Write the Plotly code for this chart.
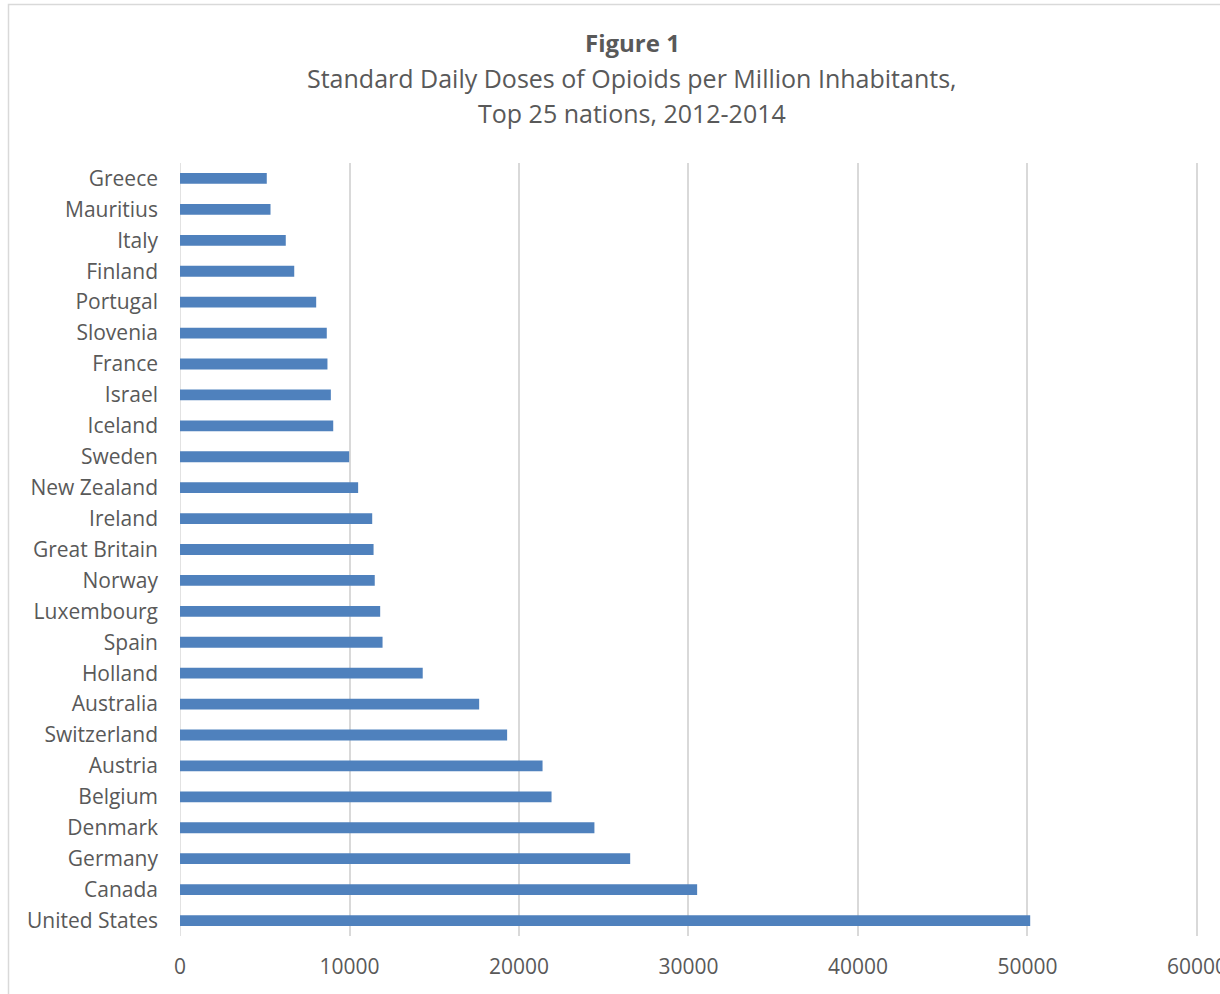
import plotly.graph_objects as go

countries = ["Greece", "Mauritius", "Italy", "Finland", "Portugal", "Slovenia", "France",
             "Israel", "Iceland", "Sweden", "New Zealand", "Ireland", "Great Britain", "Norway",
             "Luxembourg", "Spain", "Holland", "Australia", "Switzerland", "Austria", "Belgium",
             "Denmark", "Germany", "Canada", "United States"]
doses = [5120, 5340, 6240, 6740, 8035, 8660, 8700, 8900, 9040, 9980, 10510, 11340, 11420,
         11490, 11810, 11950, 14320, 17650, 19300, 21390, 21920, 24450, 26560, 30510, 50160]
x_ticks = [0, 10000, 20000, 30000, 40000, 50000, 60000]

title_bold = "Figure 1"
title_lines = ["Standard Daily Doses of Opioids per Million Inhabitants,",
               "Top 25 nations, 2012-2014"]

FONT = "Open Sans"
GRAY = "#595959"

W, H = 1220, 994
L, R, T, B = 180, 22, 163, 58
plot_w = W - L - R
plot_h = H - T - B

def px_x(px):
    return (px - L) / plot_w

def px_y(py):
    return (H - B - py) / plot_h

fig = go.Figure(go.Bar(
    x=doses, y=countries, orientation="h",
    marker=dict(color="#4F81BD", line=dict(width=0)),
    hoverinfo="x+y",
))

fig.update_layout(
    width=W, height=H,
    margin=dict(l=L, r=R, t=T, b=B, autoexpand=False),
    paper_bgcolor="white", plot_bgcolor="white",
    bargap=0.65,
    showlegend=False,
    font=dict(family=FONT, color=GRAY, size=21),
    xaxis=dict(range=[0, 60060], tickvals=x_ticks, ticktext=[str(v) for v in x_ticks],
               showgrid=True, gridcolor="#d9d9d9", gridwidth=1.5,
               zeroline=False, showline=False, ticks="", automargin=False,
               ticklabelstandoff=16, ticklabeloverflow="allow",
               tickfont=dict(family=FONT, size=21, color=GRAY)),
    yaxis=dict(autorange="reversed", showgrid=False, zeroline=False, automargin=False,
               showline=False, ticks="", ticklabelstandoff=21,
               tickfont=dict(family=FONT, size=21, color=GRAY)),
    shapes=[
        dict(type="rect", xref="paper", yref="paper",
             x0=px_x(8.5), x1=px_x(1240), y0=px_y(1010), y1=px_y(4.5),
             line=dict(color="#d9d9d9", width=1.5), fillcolor="rgba(0,0,0,0)", layer="below"),
        dict(type="line", xref="x", yref="paper", x0=0, x1=0, y0=0, y1=1,
             line=dict(color="#d9d9d9", width=1.5), layer="below"),
    ],
    annotations=[
        dict(text="<b>" + title_bold + "</b>", xref="paper", yref="paper",
             x=px_x(632), y=px_y(43), xanchor="center", yanchor="middle",
             showarrow=False, font=dict(family=FONT, size=24, color=GRAY)),
        dict(text=title_lines[0], xref="paper", yref="paper",
             x=px_x(632), y=px_y(78), xanchor="center", yanchor="middle",
             showarrow=False, font=dict(family=FONT, size=25, color=GRAY)),
        dict(text=title_lines[1], xref="paper", yref="paper",
             x=px_x(632), y=px_y(113), xanchor="center", yanchor="middle",
             showarrow=False, font=dict(family=FONT, size=25, color=GRAY)),
    ],
)

fig.write_html("out.html")
